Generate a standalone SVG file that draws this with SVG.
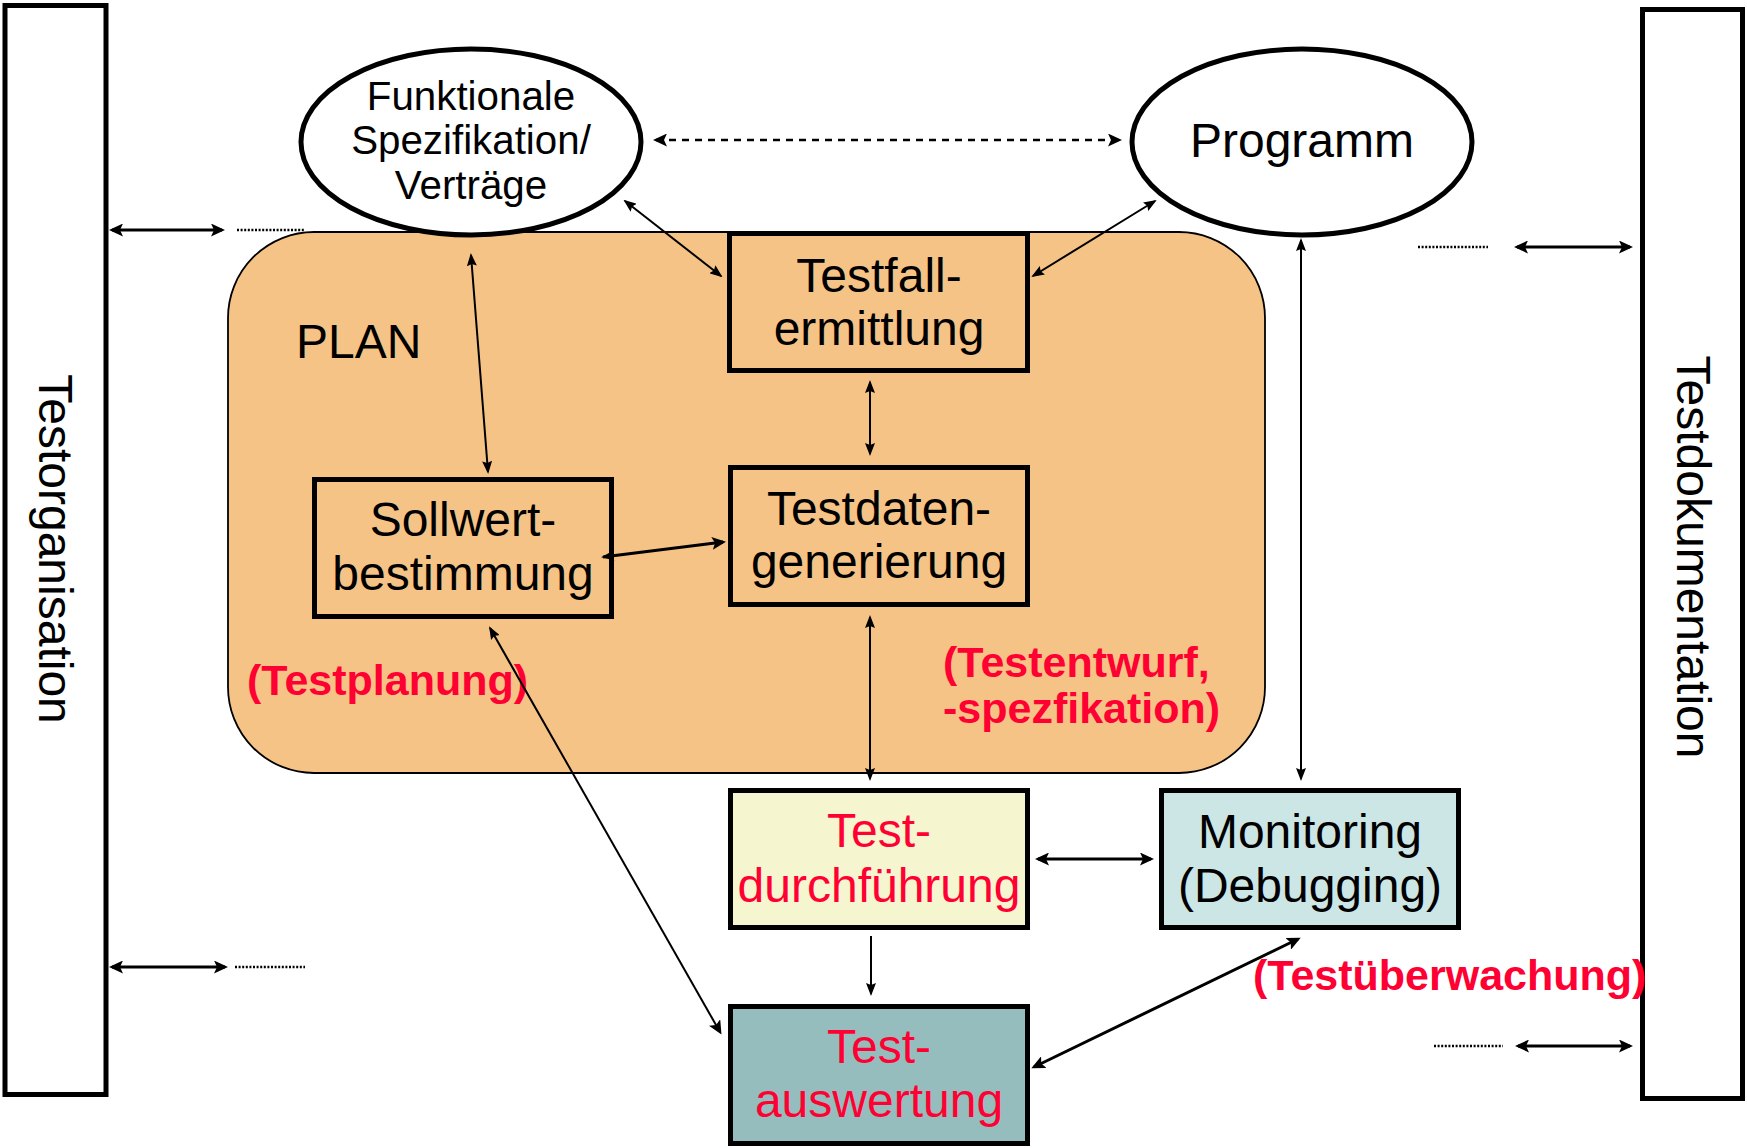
<svg xmlns="http://www.w3.org/2000/svg" width="1747" height="1148" viewBox="0 0 1747 1148">
<style>
.t{font-family:"Liberation Sans",Arial,sans-serif;fill:#000}
.big{font-size:48px}
.mid{font-size:40.3px}
.red{font-family:"Liberation Sans",Arial,sans-serif;font-weight:bold;font-size:43px;fill:#FF0033}
.rt{font-family:"Liberation Sans",Arial,sans-serif;font-size:48px;fill:#FF0033}
.box{stroke:#000;stroke-width:5}
.bar{fill:#fff;stroke:#000;stroke-width:5}
.thin{stroke:#000;stroke-width:2;fill:none}
.thick{stroke:#000;stroke-width:3;fill:none}
.dot{stroke:#000;stroke-width:2.5;stroke-dasharray:2 1.6;fill:none}
.dash{stroke:#000;stroke-width:2.6;stroke-dasharray:7 6;fill:none}
</style>
<defs>
<marker id="a" viewBox="0 0 13 10" refX="11" refY="5" markerWidth="13" markerHeight="10" markerUnits="userSpaceOnUse" orient="auto-start-reverse">
<path d="M0,0 L13,5 L0,10 L2,5 z" fill="#000"/>
</marker>
<marker id="b" viewBox="0 0 14 13" refX="11" refY="6.5" markerWidth="14" markerHeight="13" markerUnits="userSpaceOnUse" orient="auto-start-reverse">
<path d="M0,0 L14,6.5 L0,13 L3,6.5 z" fill="#000"/>
</marker>
</defs>

<g id="testorganisation">
<rect class="bar" x="5" y="5.5" width="101" height="1089"/>
<text class="t big" text-anchor="middle" transform="translate(39,549) rotate(90)">Testorganisation</text>
</g>

<g id="testdokumentation">
<rect class="bar" x="1642.5" y="9.5" width="100" height="1089"/>
<text class="t big" text-anchor="middle" transform="translate(1677,557) rotate(90)">Testdokumentation</text>
</g>

<g id="plan">
<rect x="228" y="232" width="1037" height="541" rx="86" ry="86" fill="#F6C386" stroke="#000" stroke-width="1.8"/>
<text class="t big" x="296" y="358">PLAN</text>
<text class="red" x="247" y="695">(Testplanung)</text>
<text class="red" x="943" y="677">(Testentwurf,</text>
<text class="red" x="943" y="723">-spezfikation)</text>
</g>

<g id="spezifikation">
<ellipse cx="471" cy="142" rx="170" ry="93" fill="#fff" stroke="#000" stroke-width="5"/>
<text class="t mid" text-anchor="middle" x="471" y="110">Funktionale</text>
<text class="t mid" text-anchor="middle" x="471" y="154">Spezifikation/</text>
<text class="t mid" text-anchor="middle" x="471" y="199">Verträge</text>
</g>

<g id="programm">
<ellipse cx="1302" cy="142" rx="170" ry="93" fill="#fff" stroke="#000" stroke-width="5"/>
<text class="t big" text-anchor="middle" x="1302" y="157">Programm</text>
</g>

<g id="testfallermittlung">
<rect class="box" x="729.5" y="233.5" width="298" height="137" fill="#F6C386"/>
<text class="t big" text-anchor="middle" x="879" y="292">Testfall-</text>
<text class="t big" text-anchor="middle" x="879" y="345">ermittlung</text>
</g>

<g id="testdatengenerierung">
<rect class="box" x="730.5" y="467.5" width="297" height="137" fill="#F6C386"/>
<text class="t big" text-anchor="middle" x="879" y="525">Testdaten-</text>
<text class="t big" text-anchor="middle" x="879" y="578">generierung</text>
</g>

<g id="sollwertbestimmung">
<rect class="box" x="314.5" y="479.5" width="297" height="137" fill="#F6C386"/>
<text class="t big" text-anchor="middle" x="463" y="536">Sollwert-</text>
<text class="t big" text-anchor="middle" x="463" y="590">bestimmung</text>
</g>

<g id="testdurchfuehrung">
<rect class="box" x="730.5" y="790.5" width="297" height="137" fill="#F5F5D0"/>
<text class="rt" text-anchor="middle" x="879" y="847">Test-</text>
<text class="rt" text-anchor="middle" x="879" y="902">durchführung</text>
</g>

<g id="monitoring">
<rect class="box" x="1161.5" y="790.5" width="297" height="137" fill="#CCE6E6"/>
<text class="t big" text-anchor="middle" x="1310" y="848">Monitoring</text>
<text class="t big" text-anchor="middle" x="1310" y="902">(Debugging)</text>
<text class="red" x="1253" y="990">(Testüberwachung)</text>
</g>

<g id="testauswertung">
<rect class="box" x="730.5" y="1006.5" width="297" height="137" fill="#96BDBD"/>
<text class="rt" text-anchor="middle" x="879" y="1063">Test-</text>
<text class="rt" text-anchor="middle" x="879" y="1117">auswertung</text>
</g>

<g id="connectors">
<line class="dash" x1="656" y1="140" x2="1119" y2="140" marker-start="url(#b)" marker-end="url(#b)"/>
<line class="thick" x1="112" y1="230" x2="222" y2="230" marker-start="url(#b)" marker-end="url(#b)"/>
<line class="dot" x1="237" y1="230" x2="305" y2="230"/>
<line class="thick" x1="112" y1="967" x2="225" y2="967" marker-start="url(#b)" marker-end="url(#b)"/>
<line class="dot" x1="235" y1="967" x2="305" y2="967"/>
<line class="dot" x1="1418" y1="247" x2="1488" y2="247"/>
<line class="thick" x1="1517" y1="247" x2="1630" y2="247" marker-start="url(#b)" marker-end="url(#b)"/>
<line class="dot" x1="1434" y1="1046" x2="1503" y2="1046"/>
<line class="thick" x1="1518" y1="1046" x2="1630" y2="1046" marker-start="url(#b)" marker-end="url(#b)"/>
<line class="thin" x1="625" y1="201" x2="721" y2="276" marker-start="url(#a)" marker-end="url(#a)"/>
<line class="thin" x1="471" y1="255" x2="488" y2="472" marker-start="url(#a)" marker-end="url(#a)"/>
<line class="thin" x1="1033" y1="276" x2="1155" y2="201" marker-start="url(#a)" marker-end="url(#a)"/>
<line class="thin" x1="1301" y1="240" x2="1301" y2="779" marker-start="url(#a)" marker-end="url(#a)"/>
<line class="thin" x1="870" y1="382" x2="870" y2="454" marker-start="url(#a)" marker-end="url(#a)"/>
<line class="thick" x1="603" y1="557" x2="723" y2="542" marker-start="url(#a)" marker-end="url(#b)"/>
<line class="thin" x1="870" y1="617" x2="870" y2="779" marker-start="url(#a)" marker-end="url(#a)"/>
<line class="thin" x1="490" y1="628" x2="720" y2="1032" marker-start="url(#a)" marker-end="url(#b)"/>
<line class="thin" x1="871" y1="936" x2="871" y2="994" marker-end="url(#a)"/>
<line class="thick" x1="1038" y1="859" x2="1151" y2="859" marker-start="url(#b)" marker-end="url(#b)"/>
<line class="thick" x1="1298" y1="939" x2="1034" y2="1067" marker-start="url(#b)" marker-end="url(#b)"/>
</g>
</svg>
